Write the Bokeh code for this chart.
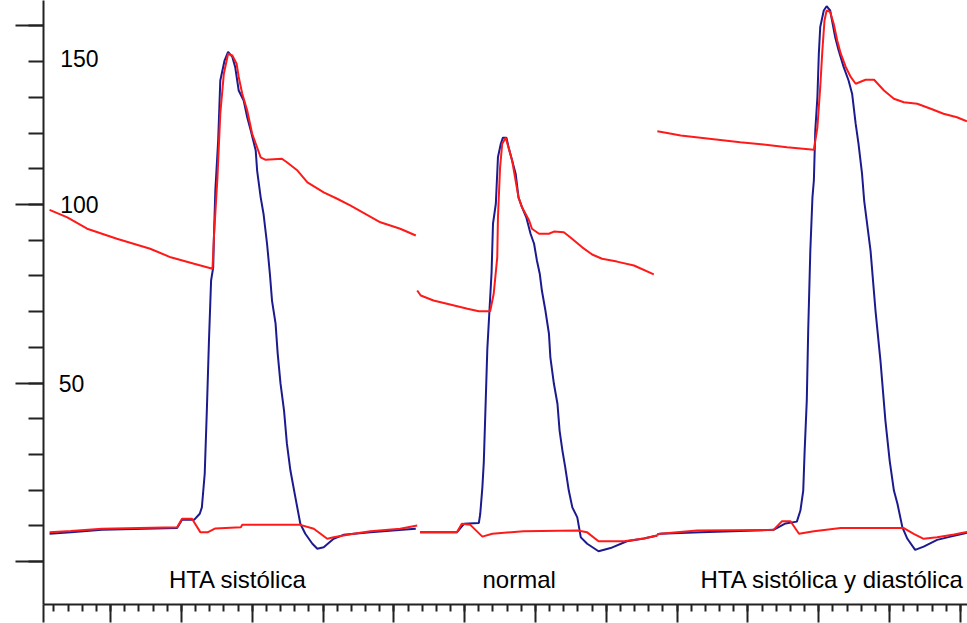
from bokeh.plotting import figure
from bokeh.models import Range1d, FixedTicker
from bokeh.core.properties import value
from bokeh.embed import file_html
from bokeh.resources import INLINE

# ---------------- data (time in ms, pressure in mmHg) ----------------
# Beat 1: "HTA sistólica"
t1_lv = [14, 44, 88, 194, 201, 218, 226, 229, 233, 236, 239, 242, 245, 246, 248, 252, 255, 261, 266, 272,
         276, 281, 288, 293, 298, 305, 307, 312, 316, 321, 325, 328, 333, 336, 340, 345, 349, 354, 361, 368,
         375, 385, 392, 401, 415, 429, 448, 467, 512, 531]
p1_lv = [7.8, 8.2, 8.9, 9.4, 11.7, 11.7, 13.4, 15.2, 24.6, 42.3, 61.9, 78.7, 82.4, 90.8, 103.9, 117.9, 134.7, 140.3, 142.7, 141.3,
         138.5, 131.9, 129.1, 124.4, 120.7, 115.1, 109.5, 102.0, 97.4, 89.0, 80.6, 73.1, 66.7, 58.3, 49.9, 42.3, 33.1, 25.5, 18.0, 10.6,
         7.8, 5.0, 3.6, 4.0, 6.4, 7.5, 7.9, 8.2, 8.9, 9.2]
t1_ao = [14, 39, 67, 109, 156, 185, 218, 244, 246, 251, 255, 260, 266, 272, 278, 281, 286, 293, 300, 306,
         312, 319, 342, 349, 364, 378, 401, 420, 439, 481, 509, 531]
p1_ao = [98.5, 96.4, 93.2, 90.4, 87.6, 85.2, 83.4, 82.0, 90.8, 107.6, 125.4, 136.6, 142.2, 141.7, 139.4, 135.7, 131.0, 126.3, 119.8, 116.5,
         113.2, 112.5, 112.8, 111.8, 109.5, 106.2, 103.4, 101.6, 99.7, 95.0, 93.2, 91.3]
t1_la = [14, 44, 88, 194, 201, 215, 227, 237, 248, 284, 286, 368, 387, 406, 415, 443, 467, 509, 533]
p1_la = [8.2, 8.6, 9.2, 9.6, 12.0, 12.0, 8.2, 8.2, 9.3, 9.6, 10.3, 10.3, 9.2, 6.4, 6.8, 7.8, 8.5, 9.2, 10.1]

# Beat 2: "normal"
t2_lv = [537, 589, 599, 620, 622, 625, 627, 629, 632, 635, 638, 640, 644, 647, 651, 654, 659, 662, 667, 672,
         676, 681, 687, 693, 698, 702, 706, 709, 714, 719, 721, 726, 731, 734, 738, 742, 747, 752, 759, 764,
         773, 789, 806, 829, 853, 872]
p2_lv = [8.2, 8.2, 10.6, 10.8, 13.4, 20.8, 27.8, 40.4, 59.6, 70.3, 81.0, 94.6, 100.2, 113.2, 117.0, 118.7, 118.7, 116.0, 112.3, 108.6,
         102.0, 99.2, 96.4, 91.8, 89.0, 84.3, 80.6, 75.9, 70.3, 63.8, 57.2, 49.8, 44.2, 36.7, 31.1, 26.4, 19.9, 15.2, 12.4, 6.8,
         5.0, 2.9, 3.8, 5.7, 6.5, 7.3]
t2_ao = [533, 538, 556, 575, 604, 620, 636, 641, 646, 647, 650, 653, 658, 667, 676, 681, 691, 695, 705, 719,
         726, 740, 749, 766, 780, 794, 815, 839, 867]
p2_ao = [75.9, 74.5, 73.1, 72.2, 70.8, 70.1, 70.1, 75.0, 85.2, 96.4, 110.4, 117.0, 118.7, 112.3, 102.0, 99.2, 95.5, 93.2, 91.8, 91.8,
         92.4, 92.2, 90.8, 88.0, 86.0, 84.8, 84.0, 82.9, 80.4]
t2_la = [537, 589, 596, 608, 625, 639, 683, 759, 773, 789, 825, 853, 872]
p2_la = [8.2, 8.2, 10.6, 10.3, 7.0, 7.8, 8.5, 8.7, 8.2, 5.7, 5.7, 6.5, 7.3]

# Beat 3: "HTA sistólica y diastólica"
t3_lv = [872, 876, 933, 1036, 1053, 1069, 1074, 1078, 1080, 1083, 1085, 1088, 1091, 1093, 1095, 1098, 1100, 1102, 1107, 1111,
         1116, 1123, 1128, 1135, 1142, 1147, 1152, 1156, 1161, 1164, 1173, 1180, 1187, 1194, 1200, 1206, 1211, 1218, 1225, 1236,
         1248, 1267, 1286, 1305, 1310]
p3_lv = [7.6, 7.8, 8.2, 8.9, 10.7, 11.2, 14.3, 19.9, 31.1, 45.1, 64.7, 87.1, 102.0, 106.7, 120.7, 130.1, 142.2, 149.7, 154.3, 155.5,
         154.3, 146.9, 143.1, 138.5, 134.7, 131.0, 122.6, 117.0, 108.6, 101.1, 87.1, 70.3, 56.3, 39.5, 28.3, 19.9, 16.2, 9.6, 6.4, 3.3,
         4.2, 6.1, 7.0, 7.9, 8.1]
t3_ao = [872, 886, 905, 989, 1022, 1055, 1093, 1098, 1102, 1105, 1108, 1111, 1116, 1121, 1126, 1131, 1138, 1145, 1152, 1166,
         1178, 1192, 1206, 1220, 1239, 1258, 1276, 1295, 1309]
p3_ao = [120.5, 120.0, 119.3, 117.4, 116.8, 116.0, 115.3, 121.6, 132.9, 143.1, 151.5, 154.3, 153.9, 150.6, 145.9, 142.2, 138.5, 135.7, 133.8, 134.9,
         134.9, 131.9, 129.6, 128.6, 128.2, 126.8, 125.4, 124.4, 123.3]
t3_la = [872, 876, 928, 1036, 1048, 1060, 1072, 1093, 1131, 1220, 1234, 1248, 1267, 1291, 1307, 1310]
p3_la = [7.6, 7.8, 8.7, 8.9, 11.3, 11.3, 7.8, 8.5, 9.4, 9.4, 7.8, 6.4, 6.8, 7.6, 8.2, 8.3]

categories = ["HTA sistólica", "normal", "HTA sistólica y diastólica"]
y_tick_labels = ["150", "100", "50"]
y_major_ticks = [0, 50, 100, 150]

# ---------------- placement / style ----------------
cat_x = [280, 677, 1119]
cat_y = -4.9
ylab_x = [29, 29, 27]
ylab_y = [140.8, 100, 50]

BLUE = "#1b1b8f"
RED = "#ff1a1a"
AXIS = "#222222"

p = figure(width=967, height=623, output_backend="svg", toolbar_location=None,
           x_range=Range1d(5.4, 1309.9), y_range=Range1d(-12.0, 157.1),
           min_border_left=43, min_border_right=0, min_border_top=0, min_border_bottom=19)
p.grid.visible = False
p.outline_line_color = None
p.background_fill_color = "white"
p.border_fill_color = "white"

for t, v in [(t1_lv, p1_lv), (t2_lv, p2_lv), (t3_lv, p3_lv)]:
    p.line(t, v, line_color=BLUE, line_width=2)
for t, v in [(t1_la, p1_la), (t2_la, p2_la), (t3_la, p3_la),
             (t1_ao, p1_ao), (t2_ao, p2_ao), (t3_ao, p3_ao)]:
    p.line(t, v, line_color=RED, line_width=2)


def style_axis(ax, major_out, minor_out):
    ax.major_tick_out = major_out
    ax.major_tick_in = 0
    ax.minor_tick_out = minor_out
    ax.minor_tick_in = 0
    ax.axis_line_width = 2
    ax.major_tick_line_width = 2
    ax.minor_tick_line_width = 2
    ax.axis_line_color = AXIS
    ax.major_tick_line_color = AXIS
    ax.minor_tick_line_color = AXIS
    ax.major_label_text_font_size = "1px"
    ax.major_label_text_color = None
    ax.major_label_standoff = 0


# y axis
ya = p.yaxis[0]
ya.ticker = FixedTicker(ticks=y_major_ticks, minor_ticks=list(range(0, 151, 10)))
style_axis(ya, 28, 15)
ya.major_label_overrides = {t: "" for t in y_major_ticks}

# x axis (no labels in the original)
x_major = [5.6] + list(range(100, 1301, 100))
xa = p.xaxis[0]
xa.ticker = FixedTicker(ticks=x_major, minor_ticks=list(range(20, 1310, 20)))
style_axis(xa, 18, 7)
xa.major_label_overrides = {t: "" for t in x_major}

# y tick labels inside the frame
p.text(x=ylab_x, y=ylab_y, text=y_tick_labels, text_font=value("Liberation Sans"),
       text_font_size="23px", text_align="left", text_baseline="middle", text_color="black")

# category labels
p.text(x=cat_x, y=[cat_y] * len(categories), text=categories, text_font=value("Liberation Sans"),
       text_font_size="24px", text_align="center", text_baseline="middle", text_color="black")

open("out.html", "w").write(file_html(p, INLINE))
